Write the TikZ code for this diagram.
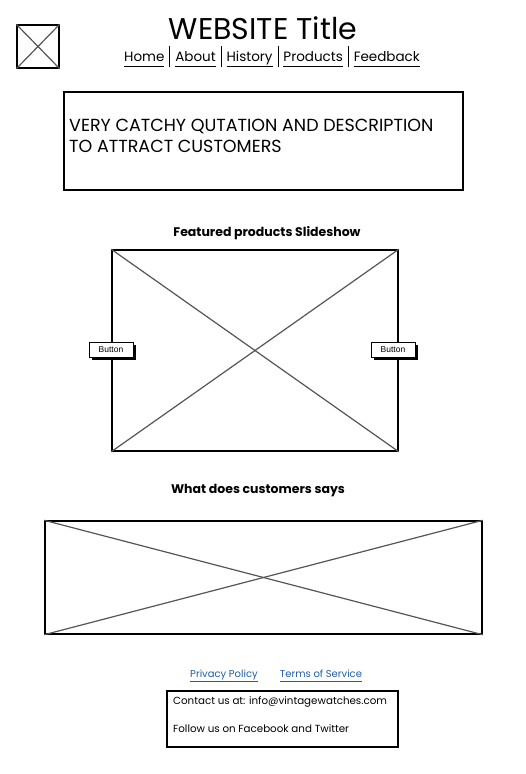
\documentclass[tikz,border=0pt]{standalone}
\usepackage{fontspec}
\setmainfont{Poppins}
\newfontfamily\btnfont{Liberation Sans}
\usetikzlibrary{positioning}
\definecolor{xgray}{HTML}{555555}
\definecolor{linkblue}{HTML}{1F5FA6}
\tikzset{
    frame/.style={draw=black, line width=1.4pt, inner sep=0pt},
    xline/.style={draw=xgray, line width=1.2pt},
    btn/.style={draw=black, line width=0.8pt, fill=white, minimum width=44pt, minimum height=15pt, inner sep=0pt, font=\btnfont\fontsize{8.5}{9}\selectfont},
    heading/.style={font=\bfseries\fontsize{12.5}{14}\selectfont},
    link/.style={text=linkblue, anchor=base, font=\fontsize{10}{12}\selectfont}
}
\newcommand{\navlink}[1]{\underline{\vphantom{y}#1}}
\newcommand{\navsep}{\hspace{5pt}\rule[-6pt]{0.9pt}{21pt}\hspace{5pt}}

\begin{document}
\begin{tikzpicture}[x=1pt, y=-1pt]
    \useasboundingbox[fill=white] (0,0) rectangle (526,774);

    % header
    \node[frame, minimum width=42pt, minimum height=43pt] (logo) at (38,46.5) {};
    \draw[xline] (logo.north west) -- (logo.south east);
    \draw[xline] (logo.north east) -- (logo.south west);
    \node[font=\fontsize{30}{32}\selectfont] (title) at (263,28) {WEBSITE Title};
    \node[font=\fontsize{13.5}{15}\selectfont] (nav) at (272,56.5) {\navlink{Home}\navsep\navlink{About}\navsep\navlink{History}\navsep\navlink{Products}\navsep\navlink{Feedback}};

    % quotation
    \node[frame, minimum width=399pt, minimum height=98pt] (quote) at (263.5,141) {};
    \node[anchor=west, align=left, inner sep=0pt, font=\fontsize{17.5}{21}\selectfont] (quotetext) at (69,136) {VERY CATCHY QUTATION AND DESCRIPTION\\TO ATTRACT CUSTOMERS};

    % slideshow
    \node[heading] (slidetitle) at (267,233) {Featured products Slideshow};
    \node[frame, minimum width=286pt, minimum height=201pt] (slide) at (255,350.5) {};
    \draw[xline] (slide.north west) -- (slide.south east);
    \draw[xline] (slide.north east) -- (slide.south west);
    \fill (91.5,344.5) rectangle (135.5,359.5);
    \node[btn] (prev) at (111,349.5) {Button};
    \fill (373.5,344.5) rectangle (417.5,359.5);
    \node[btn] (next) at (393,349.5) {Button};

    % reviews
    \node[heading] (reviewtitle) at (258,491) {What does customers says};
    \node[frame, minimum width=437pt, minimum height=113pt] (reviews) at (263.5,577.5) {};
    \draw[xline] (reviews.north west) -- (reviews.south east);
    \draw[xline] (reviews.north east) -- (reviews.south west);

    % footer
    \node[link] (privacy) at (224,677.5) {\underline{\vphantom{y}Privacy Policy}};
    \node[link] (terms) at (321,677.5) {\underline{\vphantom{y}Terms of Service}};
    \node[frame, line width=1.1pt, minimum width=231pt, minimum height=56pt] (contact) at (282.5,719) {};
    \node[anchor=west, inner sep=0pt, font=\fontsize{10.3}{11}\selectfont] (mail) at (173,702) {Contact us at: info@vintagewatches.com};
    \node[anchor=west, inner sep=0pt, font=\fontsize{10.3}{11}\selectfont] (social) at (173,729) {Follow us on Facebook and Twitter};
\end{tikzpicture}
\end{document}
